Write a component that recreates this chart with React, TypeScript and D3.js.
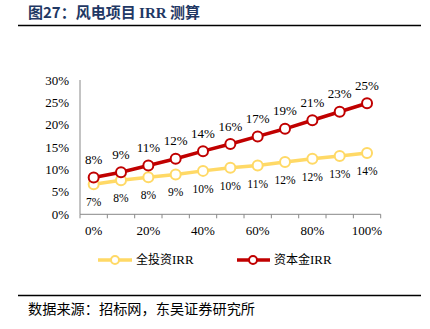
import React from "react";
import * as d3 from "d3";

const categories = ["0%", "10%", "20%", "30%", "40%", "50%", "60%", "70%", "80%", "90%", "100%"];
const totalIRR = [6.7, 7.6, 8.3, 8.9, 9.7, 10.4, 10.9, 11.7, 12.4, 13.0, 13.7];
const totalLabels = ["7%", "8%", "8%", "9%", "10%", "10%", "11%", "12%", "12%", "13%", "14%"];
const equityIRR = [8.2, 9.4, 10.9, 12.4, 14.1, 15.7, 17.4, 19.1, 21.0, 22.9, 24.8];
const equityLabels = ["8%", "9%", "11%", "12%", "14%", "16%", "17%", "19%", "21%", "23%", "25%"];
const yTicks = [0, 5, 10, 15, 20, 25, 30];
const shownX = ["0%", "20%", "40%", "60%", "80%", "100%"];

const W = 430, H = 329;
const left = 80, right = 380.7, top = 80, bottom = 214.3;
const YELLOW = "#ffd966";
const RED = "#c00000";
const SERIF = "'Liberation Serif', 'Times New Roman', serif";
const CJK = "'Noto Sans CJK SC', sans-serif";

export default function App() {
  const x = d3.scaleBand<string>().domain(categories).range([left, right]);
  const y = d3.scaleLinear().domain([0, 30]).range([bottom, top]);
  const cx = (c: string) => (x(c) as number) + x.bandwidth() / 2;
  const line = d3.line<number>().x((_, i) => cx(categories[i])).y((v) => y(v));
  const boundaries = [...categories.map((c) => x(c) as number), right];

  return (
    <svg width={W} height={H} style={{ position: "absolute", left: 0, top: 0 }}>
      <rect width={W} height={H} fill="#fff" />
      <text x={28} y={17.5} fontFamily={CJK} fontSize={15} fontWeight="bold" fill="#1f3864">
        图27：风电项目 <tspan fontFamily={SERIF}>IRR</tspan> 测算
      </text>
      <line x1={18} x2={421} y1={25.5} y2={25.5} stroke="#000" strokeWidth={1.5} />

      {/* y axis */}
      <line x1={left} x2={left} y1={top} y2={bottom} stroke="#888" strokeWidth={1} />
      {yTicks.map((t) => (
        <text key={t} x={69} y={y(t)} dy="0.35em" textAnchor="end" fontFamily={SERIF} fontSize={13} fill="#000">
          {t}%
        </text>
      ))}
      {/* x axis */}
      <line x1={left} x2={right} y1={bottom} y2={bottom} stroke="#888" strokeWidth={1} />
      {boundaries.map((b, i) => (
        <line key={i} x1={b} x2={b} y1={bottom} y2={bottom + 4} stroke="#888" strokeWidth={1} />
      ))}
      {categories.filter((c) => shownX.includes(c)).map((c) => (
        <text key={c} x={cx(c)} y={235} textAnchor="middle" fontFamily={SERIF} fontSize={13} fill="#000">
          {c}
        </text>
      ))}

      {/* yellow series */}
      <path d={line(totalIRR) || ""} fill="none" stroke={YELLOW} strokeWidth={3.5} />
      {totalIRR.map((v, i) => (
        <circle key={i} cx={cx(categories[i])} cy={y(v)} r={5} fill="#fff" stroke={YELLOW} strokeWidth={2} />
      ))}
      {totalIRR.map((v, i) => (
        <text key={i} x={cx(categories[i])} y={y(v) + 18} dy="0.35em" textAnchor="middle" fontFamily={SERIF} fontSize={11.5} fill="#000">
          {totalLabels[i]}
        </text>
      ))}

      {/* red series */}
      <path d={line(equityIRR) || ""} fill="none" stroke={RED} strokeWidth={3.5} />
      {equityIRR.map((v, i) => (
        <circle key={i} cx={cx(categories[i])} cy={y(v)} r={5} fill="#fff" stroke={RED} strokeWidth={2} />
      ))}
      {equityIRR.map((v, i) => (
        <text key={i} x={cx(categories[i])} y={y(v) - 18} dy="0.35em" textAnchor="middle" fontFamily={SERIF} fontSize={13} fill="#000">
          {equityLabels[i]}
        </text>
      ))}

      {/* legend */}
      <line x1={98} x2={132} y1={260} y2={260} stroke={YELLOW} strokeWidth={3.5} />
      <circle cx={115} cy={260} r={4} fill="#fff" stroke={YELLOW} strokeWidth={2} />
      <text x={136} y={260} dy="0.35em" fontFamily={CJK} fontSize={12} fill="#000">
        全投资<tspan fontFamily={SERIF} fontSize={13}>IRR</tspan>
      </text>
      <line x1={237} x2={270} y1={260} y2={260} stroke={RED} strokeWidth={3.5} />
      <circle cx={253} cy={260} r={4} fill="#fff" stroke={RED} strokeWidth={2} />
      <text x={274} y={260} dy="0.35em" fontFamily={CJK} fontSize={12} fill="#000">
        资本金<tspan fontFamily={SERIF} fontSize={13}>IRR</tspan>
      </text>

      <line x1={18} x2={421} y1={295.5} y2={295.5} stroke="#000" strokeWidth={1.5} />
      <text x={28} y={314} fontFamily={CJK} fontSize={14.2} fill="#000">
        数据来源：招标网，东吴证券研究所
      </text>
    </svg>
  );
}
